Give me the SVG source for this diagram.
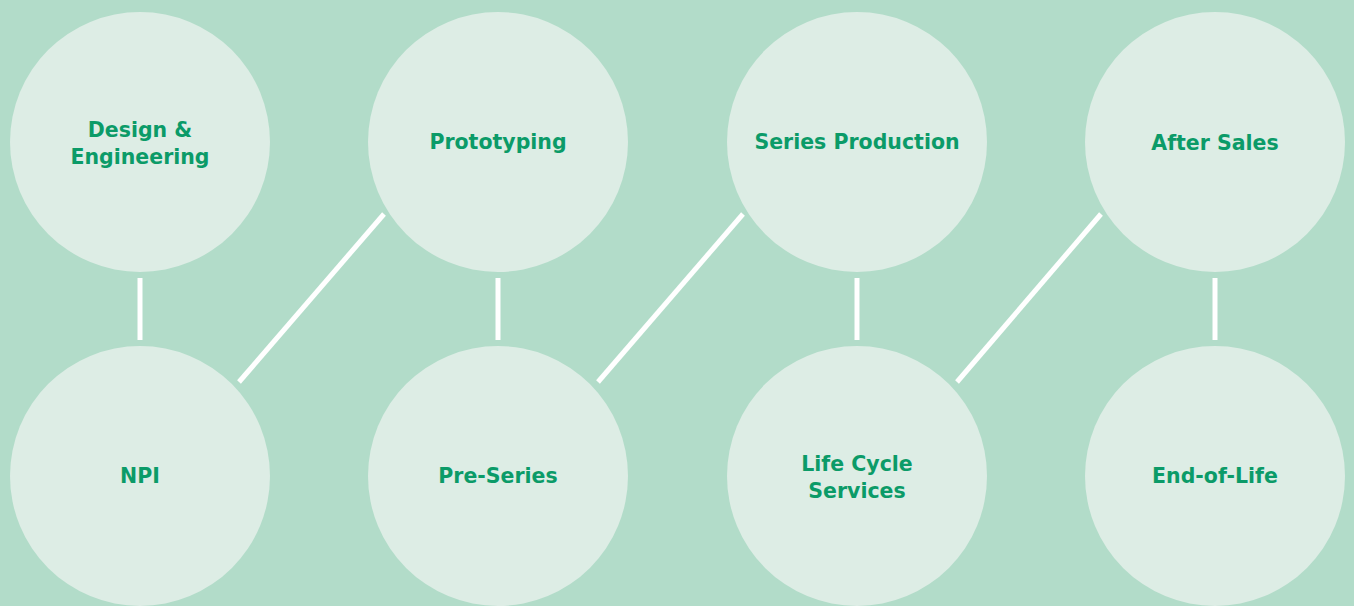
<svg xmlns="http://www.w3.org/2000/svg" width="1354" height="606" viewBox="0 0 1354 606">
<style>
.n{fill:#ddede5}
.t{font-family:"DejaVu Sans","Liberation Sans",sans-serif;font-weight:bold;font-size:20.5px;fill:#0b9b68;text-anchor:middle}
.c{stroke:#ffffff;stroke-width:5;fill:none}
</style>
<rect width="1354" height="606" fill="#b2dcc9"/>
<g id="connectors">
<line class="c" x1="140" y1="278" x2="140" y2="340"/>
<line class="c" x1="498" y1="278" x2="498" y2="340"/>
<line class="c" x1="857" y1="278" x2="857" y2="340"/>
<line class="c" x1="1215" y1="278" x2="1215" y2="340"/>
<line class="c" x1="239" y1="382" x2="384" y2="214"/>
<line class="c" x1="598" y1="382" x2="743" y2="214"/>
<line class="c" x1="957" y1="382" x2="1101" y2="214"/>
</g>
<g id="design"><circle class="n" cx="140" cy="142" r="130"/><text class="t" x="140" y="137">Design &amp;</text><text class="t" x="140" y="164">Engineering</text></g>
<g id="prototyping"><circle class="n" cx="498" cy="142" r="130"/><text class="t" x="498" y="149">Prototyping</text></g>
<g id="series"><circle class="n" cx="857" cy="142" r="130"/><text class="t" x="857" y="149">Series Production</text></g>
<g id="aftersales"><circle class="n" cx="1215" cy="142" r="130"/><text class="t" x="1215" y="150">After Sales</text></g>
<g id="npi"><circle class="n" cx="140" cy="476" r="130"/><text class="t" x="140" y="483">NPI</text></g>
<g id="preseries"><circle class="n" cx="498" cy="476" r="130"/><text class="t" x="498" y="483">Pre-Series</text></g>
<g id="lifecycle"><circle class="n" cx="857" cy="476" r="130"/><text class="t" x="857" y="471">Life Cycle</text><text class="t" x="857" y="498">Services</text></g>
<g id="eol"><circle class="n" cx="1215" cy="476" r="130"/><text class="t" x="1215" y="483">End-of-Life</text></g>
</svg>
